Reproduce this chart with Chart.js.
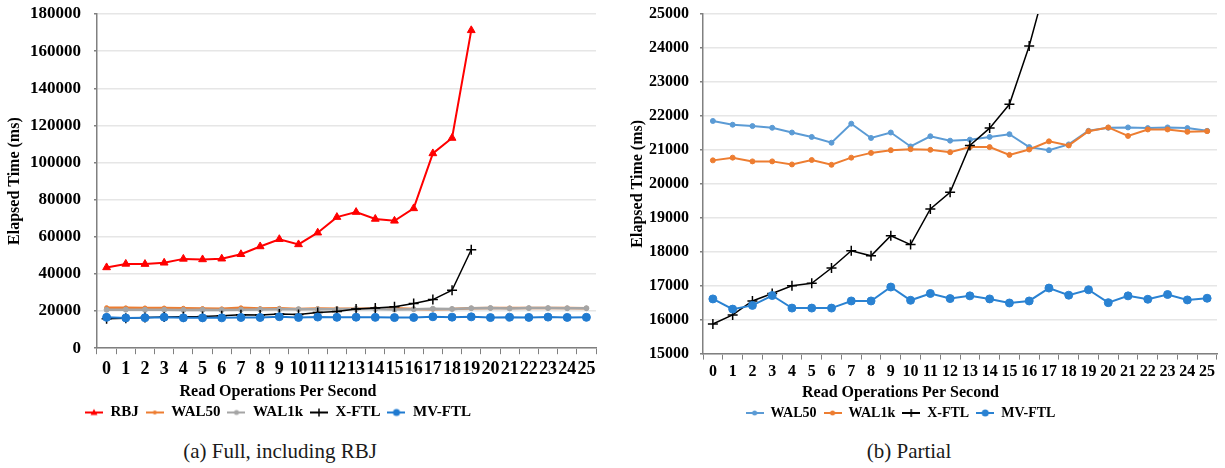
<!DOCTYPE html>
<html>
<head>
<meta charset="utf-8">
<script src="https://cdn.jsdelivr.net/npm/chart.js@4.4.1/dist/chart.umd.min.js"></script>
<style>
body { margin: 0; background: #fff; width: 1225px; height: 468px; position: relative; overflow: hidden; font-family: 'Liberation Serif', serif; }
.box { position: absolute; top: 0; height: 430px; }
#boxA { left: 0; width: 606px; }
#boxB { left: 610px; width: 615px; }
.cap { position: absolute; top: 439px; font-size: 21px; line-height: 25px; color: #1a1a1a; text-align: center; white-space: nowrap; }
</style>
</head>
<body>
<div class="box" id="boxA"><canvas id="chartA"></canvas></div>
<div class="box" id="boxB"><canvas id="chartB"></canvas></div>
<div class="cap" style="left:130px;width:300px">(a) Full, including RBJ</div>
<div class="cap" style="left:759px;width:300px">(b) Partial</div>
<script>
// read operations per second (x categories)
const readOps = ['0', '1', '2', '3', '4', '5', '6', '7', '8', '9', '10', '11', '12', '13',
    '14', '15', '16', '17', '18', '19', '20', '21', '22', '23', '24', '25'];

// elapsed time (ms)
const rbj = [43500, 45400, 45300, 46000, 48100, 47800, 48200, 50600, 54800, 58700, 55900,
    62200, 70600, 73300, 69600, 68600, 75300, 104900, 113200, 171200];
const xFtl = [15870, 16140, 16550, 16770, 17000, 17070, 17520, 18030, 17880, 18470, 18210,
    19260, 19750, 21130, 21640, 22340, 24060, 26200, 31200, 53000];
const wal50 = [21850, 21740, 21700, 21650, 21510, 21380, 21210, 21770, 21350, 21510, 21100,
    21400, 21270, 21300, 21380, 21460, 21080, 20990, 21160, 21560, 21650, 21660, 21640, 21660, 21640, 21560];
const wal1k = [20690, 20770, 20660, 20660, 20570, 20700, 20560, 20770, 20910, 20990, 21020,
    21000, 20930, 21080, 21080, 20850, 21010, 21250, 21130, 21550, 21660, 21410, 21600, 21600, 21530, 21550];
const mvFtl = [16610, 16310, 16420, 16710, 16340, 16340, 16340, 16550, 16550, 16960, 16570,
    16770, 16620, 16700, 16610, 16490, 16550, 16930, 16720, 16880, 16500, 16700, 16600, 16740, 16580, 16630];

// y axis ranges
const yLeft = { min: 0, max: 180000, step: 20000 };
const yRight = { min: 15000, max: 25000, step: 1000 };

const FONT = 'Liberation Serif';
Chart.defaults.font.family = FONT;
Chart.defaults.font.weight = 'bold';
Chart.defaults.color = '#000';

// little "line + marker" picture for the legend
function legendIcon(color, style, r) {
    const c = document.createElement('canvas');
    c.width = 18;
    c.height = 12;
    const ctx = c.getContext('2d');
    ctx.strokeStyle = color;
    ctx.fillStyle = color;
    ctx.lineWidth = 2;
    ctx.beginPath();
    ctx.moveTo(0, 6);
    ctx.lineTo(18, 6);
    ctx.stroke();
    ctx.beginPath();
    if (style === 'triangle') {
        ctx.moveTo(9, 6 - r);
        ctx.lineTo(9 + r, 6 + r * 0.7);
        ctx.lineTo(9 - r, 6 + r * 0.7);
        ctx.closePath();
        ctx.fill();
    } else if (style === 'cross') {
        ctx.lineWidth = 1.5;
        ctx.moveTo(9, 6 - r);
        ctx.lineTo(9, 6 + r);
        ctx.stroke();
    } else {
        ctx.arc(9, 6, r, 0, Math.PI * 2);
        ctx.fill();
    }
    return c;
}

function series(label, data, color, style, radius, width, order) {
    return {
        label: label,
        data: data,
        borderColor: color,
        backgroundColor: color,
        borderWidth: width,
        pointStyle: style,
        pointRadius: radius,
        pointBorderWidth: style === 'cross' ? 1.5 : 1,
        pointHoverRadius: radius,
        order: order,
        icon: legendIcon(color, style, style === 'cross' ? 4 : Math.min(radius, 3.5))
    };
}

function shiftLegend(dx) {
    return {
        id: 'shiftLegend',
        afterLayout(chart) {
            chart.legend.left += dx;
            chart.legend.right += dx;
        }
    };
}

function buildChart(id, datasets, yr, opt) {
    return new Chart(document.getElementById(id), {
        type: 'line',
        data: { labels: readOps, datasets: datasets },
        options: {
            responsive: true,
            maintainAspectRatio: false,
            animation: false,
            layout: { padding: { top: 14, right: opt.right, left: 0, bottom: 0 } },
            scales: {
                x: {
                    offset: true,
                    grid: { offset: true, drawOnChartArea: false, drawTicks: true, tickLength: 6, color: '#808080' },
                    border: { color: '#808080', width: 1.5 },
                    ticks: {
                        autoSkip: false, maxRotation: 0, minRotation: 0, padding: opt.xPad,
                        font: { size: opt.xSize, weight: 'bold' }
                    }
                },
                y: {
                    min: yr.min,
                    max: yr.max,
                    afterFit: function(s) {
                        s.width = opt.yWidth;
                        s.paddingTop = 0;
                        s.paddingBottom = 0;
                    },
                    grid: { color: '#e6e6e6', lineWidth: 1.5, tickLength: 3, tickColor: '#808080' },
                    border: { color: '#808080', width: 1.5 },
                    ticks: {
                        stepSize: yr.step, padding: opt.yPad,
                        font: { size: opt.ySize, weight: 'bold' },
                        callback: function(v) { return String(v); }
                    },
                    title: {
                        display: true, text: 'Elapsed Time (ms)',
                        font: { size: 16, weight: 'bold' },
                        padding: { top: opt.titlePad, bottom: 0 }
                    }
                }
            },
            plugins: {
                tooltip: { enabled: false },
                legend: {
                    position: 'bottom',
                    title: {
                        display: true, text: 'Read Operations Per Second', position: 'center',
                        font: { size: 16, weight: 'bold' }, padding: { top: 0, bottom: -5 }
                    },
                    labels: {
                        usePointStyle: true,
                        pointStyleWidth: 18,
                        padding: 7,
                        font: { size: opt.legSize, weight: 'bold' },
                        generateLabels: function(chart) {
                            return chart.data.datasets.map(function(ds, i) {
                                return {
                                    text: ds.label, pointStyle: ds.icon, fillStyle: ds.borderColor,
                                    strokeStyle: ds.borderColor, lineWidth: 0, hidden: false,
                                    datasetIndex: i, fontColor: '#000'
                                };
                            });
                        }
                    }
                }
            }
        },
        plugins: [shiftLegend(opt.dx)]
    });
}

buildChart('chartA', [
    series('RBJ', rbj, '#ff0000', 'triangle', 4.5, 2, 4),
    series('WAL50', wal50, '#ed7d31', 'circle', 2, 2.5, 3),
    series('WAL1k', wal1k, '#a5a5a5', 'circle', 2.5, 2.5, 2),
    series('X-FTL', xFtl, '#000000', 'cross', 5, 1.5, 1),
    series('MV-FTL', mvFtl, '#1f7ad0', 'circle', 4, 2, 0)
], yLeft, { right: 10, xPad: 4, xSize: 18, ySize: 17, yWidth: 97, yPad: 13, titlePad: 5, legSize: 15, dx: -20 });

buildChart('chartB', [
    series('WAL50', wal50, '#5b9bd5', 'circle', 2.5, 2, 3),
    series('WAL1k', wal1k, '#ed7d31', 'circle', 2.5, 2, 2),
    series('X-FTL', xFtl, '#000000', 'cross', 5, 1.5, 1),
    series('MV-FTL', mvFtl, '#2a82d2', 'circle', 4, 2, 0)
], yRight, { right: 8, xPad: 3, xSize: 16, ySize: 16, yWidth: 93, yPad: 11, titlePad: 18, legSize: 14, dx: -13 });
</script>
</body>
</html>
